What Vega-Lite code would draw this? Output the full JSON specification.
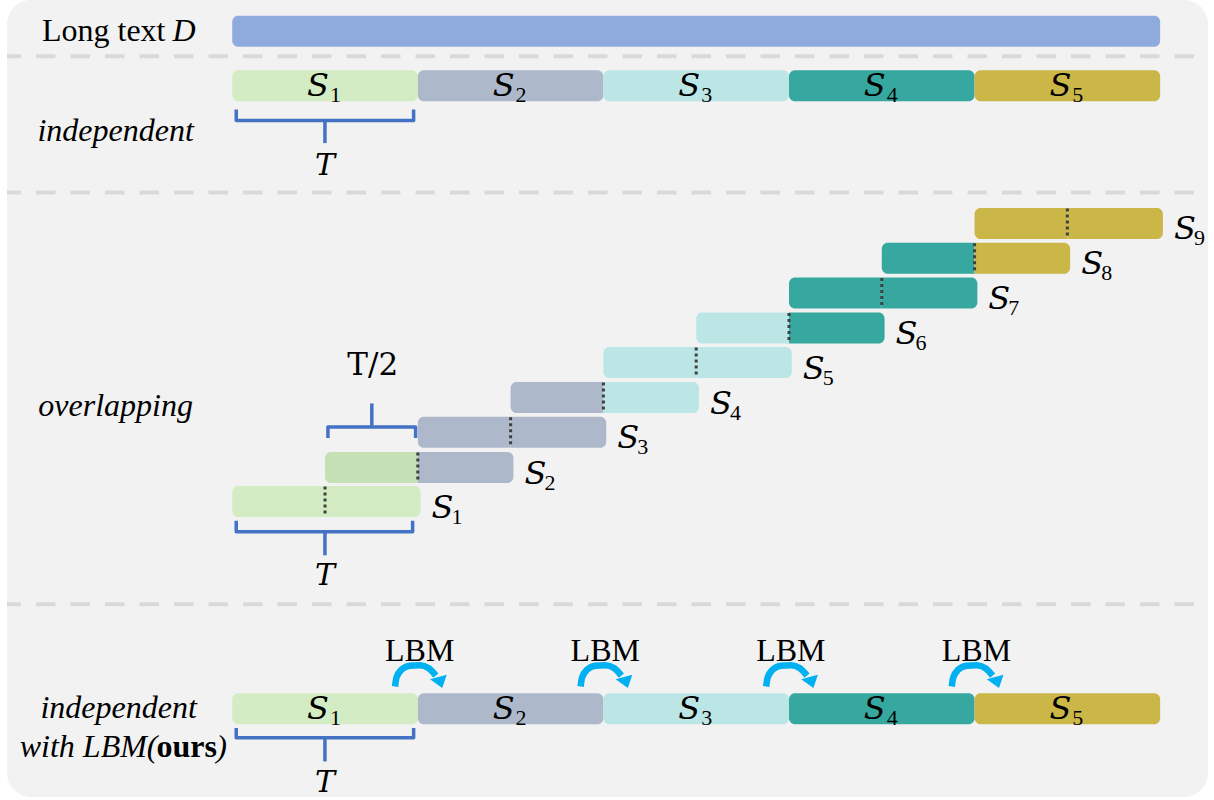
{
  "$schema": "https://vega.github.io/schema/vega-lite/v6.json",
  "width": 1214,
  "height": 800,
  "autosize": {"type": "fit", "contains": "padding"},
  "padding": {"left": 5, "top": 0, "right": 4, "bottom": 2},
  "background": "#ffffff",
  "config": {"view": {"stroke": null, "fill": "#f2f2f2", "cornerRadius": 24}},
  "datasets": {
    "seps": [{"y": 52}, {"y": 190}, {"y": 607.5}],
    "bars": [
      {"x0": 0, "x1": 5, "y": 26.5, "c": "D"},
      {"x0": 0, "x1": 1, "y": 82, "c": "1"},
      {"x0": 1, "x1": 2, "y": 82, "c": "2"},
      {"x0": 2, "x1": 3, "y": 82, "c": "3"},
      {"x0": 3, "x1": 4, "y": 82, "c": "4"},
      {"x0": 4, "x1": 5, "y": 82, "c": "5"},
      {"x0": 0, "x1": 1, "y": 713.5, "c": "1"},
      {"x0": 1, "x1": 2, "y": 713.5, "c": "2"},
      {"x0": 2, "x1": 3, "y": 713.5, "c": "3"},
      {"x0": 3, "x1": 4, "y": 713.5, "c": "4"},
      {"x0": 4, "x1": 5, "y": 713.5, "c": "5"}
    ],
    "halves": [
      {"k": 1, "side": "L", "x0": 0, "x1": 0.5, "y": 503.5, "c": "1"},
      {"k": 1, "side": "R", "x0": 0.5, "x1": 1.015, "y": 503.5, "c": "1"},
      {"k": 2, "side": "L", "x0": 0.5, "x1": 1, "y": 469, "c": "1b"},
      {"k": 2, "side": "R", "x0": 1, "x1": 1.515, "y": 469, "c": "2"},
      {"k": 3, "side": "L", "x0": 1, "x1": 1.5, "y": 433.3, "c": "2"},
      {"k": 3, "side": "R", "x0": 1.5, "x1": 2.015, "y": 433.3, "c": "2"},
      {"k": 4, "side": "L", "x0": 1.5, "x1": 2, "y": 398, "c": "2"},
      {"k": 4, "side": "R", "x0": 2, "x1": 2.515, "y": 398, "c": "3"},
      {"k": 5, "side": "L", "x0": 2, "x1": 2.5, "y": 362.5, "c": "3"},
      {"k": 5, "side": "R", "x0": 2.5, "x1": 3.015, "y": 362.5, "c": "3"},
      {"k": 6, "side": "L", "x0": 2.5, "x1": 3, "y": 327.5, "c": "3"},
      {"k": 6, "side": "R", "x0": 3, "x1": 3.515, "y": 327.5, "c": "4"},
      {"k": 7, "side": "L", "x0": 3, "x1": 3.5, "y": 292, "c": "4"},
      {"k": 7, "side": "R", "x0": 3.5, "x1": 4.015, "y": 292, "c": "4"},
      {"k": 8, "side": "L", "x0": 3.5, "x1": 4, "y": 256.8, "c": "4"},
      {"k": 8, "side": "R", "x0": 4, "x1": 4.515, "y": 256.8, "c": "5"},
      {"k": 9, "side": "L", "x0": 4, "x1": 4.5, "y": 221.5, "c": "5"},
      {"k": 9, "side": "R", "x0": 4.5, "x1": 5.015, "y": 221.5, "c": "5"}
    ],
    "mids": [
      {"x": 0.5, "y": 503.5}, {"x": 1, "y": 469}, {"x": 1.5, "y": 433.3},
      {"x": 2, "y": 398}, {"x": 2.5, "y": 362.5}, {"x": 3, "y": 327.5},
      {"x": 3.5, "y": 292}, {"x": 4, "y": 256.8}, {"x": 4.5, "y": 221.5}
    ],
    "olab": [
      {"n": "1", "x": 1.015, "y": 503.5}, {"n": "2", "x": 1.515, "y": 469},
      {"n": "3", "x": 2.015, "y": 433.3}, {"n": "4", "x": 2.515, "y": 398},
      {"n": "5", "x": 3.015, "y": 362.5}, {"n": "6", "x": 3.515, "y": 327.5},
      {"n": "7", "x": 4.015, "y": 292}, {"n": "8", "x": 4.515, "y": 256.8},
      {"n": "9", "x": 5.015, "y": 221.5}
    ],
    "inlab": [
      {"n": "1", "x": 0.5, "y": 82}, {"n": "2", "x": 1.5, "y": 82},
      {"n": "3", "x": 2.5, "y": 82}, {"n": "4", "x": 3.5, "y": 82},
      {"n": "5", "x": 4.5, "y": 82},
      {"n": "1", "x": 0.5, "y": 713.5}, {"n": "2", "x": 1.5, "y": 713.5},
      {"n": "3", "x": 2.5, "y": 713.5}, {"n": "4", "x": 3.5, "y": 713.5},
      {"n": "5", "x": 4.5, "y": 713.5}
    ],
    "brackets": [
      {"id": "a", "i": 0, "x": 0.0215, "y": 106}, {"id": "a", "i": 1, "x": 0.0215, "y": 117},
      {"id": "a", "i": 2, "x": 0.9774, "y": 117}, {"id": "a", "i": 3, "x": 0.9774, "y": 106},
      {"id": "as", "i": 0, "x": 0.4995, "y": 117}, {"id": "as", "i": 1, "x": 0.4995, "y": 140},
      {"id": "b", "i": 0, "x": 0.0215, "y": 523}, {"id": "b", "i": 1, "x": 0.0215, "y": 534},
      {"id": "b", "i": 2, "x": 0.972, "y": 534}, {"id": "b", "i": 3, "x": 0.972, "y": 523},
      {"id": "bs", "i": 0, "x": 0.4995, "y": 534}, {"id": "bs", "i": 1, "x": 0.4995, "y": 558},
      {"id": "c", "i": 0, "x": 0.0215, "y": 733}, {"id": "c", "i": 1, "x": 0.0215, "y": 743},
      {"id": "c", "i": 2, "x": 0.9774, "y": 743}, {"id": "c", "i": 3, "x": 0.9774, "y": 733},
      {"id": "cs", "i": 0, "x": 0.4995, "y": 743}, {"id": "cs", "i": 1, "x": 0.4995, "y": 767},
      {"id": "d", "i": 0, "x": 0.5156, "y": 439}, {"id": "d", "i": 1, "x": 0.5156, "y": 428},
      {"id": "d", "i": 2, "x": 0.988, "y": 428}, {"id": "d", "i": 3, "x": 0.988, "y": 439},
      {"id": "ds", "i": 0, "x": 0.752, "y": 428}, {"id": "ds", "i": 1, "x": 0.752, "y": 404}
    ],
    "arcs": [
      {"a": 1, "i": 0, "x": 0.877, "y": 691}, {"a": 1, "i": 1, "x": 0.885, "y": 682},
      {"a": 1, "i": 2, "x": 0.912, "y": 674}, {"a": 1, "i": 3, "x": 0.957, "y": 670},
      {"a": 1, "i": 4, "x": 1.011, "y": 669.5}, {"a": 1, "i": 5, "x": 1.059, "y": 672.5},
      {"a": 1, "i": 6, "x": 1.097, "y": 680},
      {"a": 2, "i": 0, "x": 1.877, "y": 691}, {"a": 2, "i": 1, "x": 1.885, "y": 682},
      {"a": 2, "i": 2, "x": 1.912, "y": 674}, {"a": 2, "i": 3, "x": 1.957, "y": 670},
      {"a": 2, "i": 4, "x": 2.011, "y": 669.5}, {"a": 2, "i": 5, "x": 2.059, "y": 672.5},
      {"a": 2, "i": 6, "x": 2.097, "y": 680},
      {"a": 3, "i": 0, "x": 2.877, "y": 691}, {"a": 3, "i": 1, "x": 2.885, "y": 682},
      {"a": 3, "i": 2, "x": 2.912, "y": 674}, {"a": 3, "i": 3, "x": 2.957, "y": 670},
      {"a": 3, "i": 4, "x": 3.011, "y": 669.5}, {"a": 3, "i": 5, "x": 3.059, "y": 672.5},
      {"a": 3, "i": 6, "x": 3.097, "y": 680},
      {"a": 4, "i": 0, "x": 3.877, "y": 691}, {"a": 4, "i": 1, "x": 3.885, "y": 682},
      {"a": 4, "i": 2, "x": 3.912, "y": 674}, {"a": 4, "i": 3, "x": 3.957, "y": 670},
      {"a": 4, "i": 4, "x": 4.011, "y": 669.5}, {"a": 4, "i": 5, "x": 4.059, "y": 672.5},
      {"a": 4, "i": 6, "x": 4.097, "y": 680}
    ],
    "heads": [
      {"x": 1.118, "y": 686.5}, {"x": 2.118, "y": 686.5},
      {"x": 3.118, "y": 686.5}, {"x": 4.118, "y": 686.5}
    ],
    "texts": [
      {"kind": "italicC", "t": "independent", "x": -0.6284, "y": 138},
      {"kind": "italicC", "t": "overlapping", "x": -0.6284, "y": 417},
      {"kind": "italicC", "t": "independent", "x": -0.6122, "y": 723},
      {"kind": "italicL", "t": "D", "x": -0.3222, "y": 37},
      {"kind": "italicL", "t": ")", "x": -0.0859, "y": 763},
      {"kind": "italicR", "t": "with LBM(", "x": -0.4028, "y": 763},
      {"kind": "regularR", "t": "Long text", "x": -0.3598, "y": 37},
      {"kind": "boldL", "t": "ours", "x": -0.4082, "y": 763},
      {"kind": "lbm", "t": "LBM", "x": 1.01, "y": 665},
      {"kind": "lbm", "t": "LBM", "x": 2.01, "y": 665},
      {"kind": "lbm", "t": "LBM", "x": 3.01, "y": 665},
      {"kind": "lbm", "t": "LBM", "x": 4.01, "y": 665},
      {"kind": "T", "t": "T", "x": 0.4995, "y": 172},
      {"kind": "T", "t": "T", "x": 0.4995, "y": 588},
      {"kind": "T", "t": "T", "x": 0.4995, "y": 798},
      {"kind": "half", "t": "T/2", "x": 0.757, "y": 375}
    ]
  },
  "encoding": {
    "x": {"type": "quantitative", "scale": {"domain": [-1.2137, 5.2578], "nice": false, "zero": false}, "axis": null},
    "y": {"type": "quantitative", "scale": {"domain": [0, 798], "nice": false, "zero": false, "reverse": true}, "axis": null}
  },
  "layer": [
    {
      "data": {"name": "seps"},
      "mark": {"type": "rule", "stroke": "#d9d9d9", "strokeWidth": 4, "strokeDash": [19.5, 15], "strokeDashOffset": 20.5},
      "encoding": {"y": {"field": "y", "type": "quantitative"}, "x": null}
    },
    {
      "data": {"name": "bars"},
      "mark": {"type": "bar", "orient": "horizontal", "size": 31, "cornerRadius": 6},
      "encoding": {
        "x": {"field": "x0", "type": "quantitative"},
        "x2": {"field": "x1"},
        "y": {"field": "y", "type": "quantitative"},
        "color": {"field": "c", "type": "nominal", "legend": null,
          "scale": {"domain": ["D", "1", "1b", "2", "3", "4", "5"],
                    "range": ["#8faadc", "#d4ecc4", "#c5e0b4", "#adb9ca", "#bce6e5", "#37a8a0", "#cbb748"]}}
      }
    },
    {
      "data": {"name": "halves"},
      "transform": [{"filter": "datum.side === 'L'"}],
      "mark": {"type": "bar", "orient": "horizontal", "size": 31, "cornerRadiusTopLeft": 6, "cornerRadiusBottomLeft": 6},
      "encoding": {
        "x": {"field": "x0", "type": "quantitative"},
        "x2": {"field": "x1"},
        "y": {"field": "y", "type": "quantitative"},
        "color": {"field": "c", "type": "nominal", "legend": null}
      }
    },
    {
      "data": {"name": "halves"},
      "transform": [{"filter": "datum.side === 'R'"}],
      "mark": {"type": "bar", "orient": "horizontal", "size": 31, "cornerRadiusTopRight": 6, "cornerRadiusBottomRight": 6},
      "encoding": {
        "x": {"field": "x0", "type": "quantitative"},
        "x2": {"field": "x1"},
        "y": {"field": "y", "type": "quantitative"},
        "color": {"field": "c", "type": "nominal", "legend": null}
      }
    },
    {
      "data": {"name": "mids"},
      "mark": {"type": "point", "shape": "M0,-1L0,1", "size": 900, "filled": false, "stroke": "#404040", "strokeWidth": 3, "strokeDash": [3, 3], "opacity": 1},
      "encoding": {
        "x": {"field": "x", "type": "quantitative"},
        "y": {"field": "y", "type": "quantitative"}
      }
    },
    {
      "data": {"name": "brackets"},
      "mark": {"type": "line", "stroke": "#4472c4", "strokeWidth": 3.5, "strokeJoin": "round", "strokeCap": "butt"},
      "encoding": {
        "x": {"field": "x", "type": "quantitative"},
        "y": {"field": "y", "type": "quantitative"},
        "detail": {"field": "id", "type": "nominal"},
        "order": {"field": "i", "type": "quantitative"}
      }
    },
    {
      "data": {"name": "arcs"},
      "mark": {"type": "line", "stroke": "#00b0f0", "strokeWidth": 6.5, "interpolate": "monotone", "strokeCap": "butt"},
      "encoding": {
        "x": {"field": "x", "type": "quantitative"},
        "y": {"field": "y", "type": "quantitative"},
        "detail": {"field": "a", "type": "nominal"},
        "order": {"field": "i", "type": "quantitative"}
      }
    },
    {
      "data": {"name": "heads"},
      "mark": {"type": "point", "shape": "M-1,-0.6L1,-0.6L0.1,0.75Z", "size": 300, "filled": true, "fill": "#00b0f0", "opacity": 1, "angle": -15, "strokeWidth": 0},
      "encoding": {
        "x": {"field": "x", "type": "quantitative"},
        "y": {"field": "y", "type": "quantitative"}
      }
    },
    {
      "data": {"name": "inlab"},
      "mark": {"type": "text", "text": "S", "align": "right", "baseline": "alphabetic", "dx": 4, "dy": 10, "font": "DejaVu Serif", "fontStyle": "italic", "fontSize": 32, "fill": "#000000"},
      "encoding": {
        "x": {"field": "x", "type": "quantitative"},
        "y": {"field": "y", "type": "quantitative"}
      }
    },
    {
      "data": {"name": "inlab"},
      "mark": {"type": "text", "align": "left", "baseline": "alphabetic", "dx": 5, "dy": 16, "font": "Liberation Serif, Times New Roman, serif", "fontSize": 22, "fill": "#000000"},
      "encoding": {
        "x": {"field": "x", "type": "quantitative"},
        "y": {"field": "y", "type": "quantitative"},
        "text": {"field": "n"}
      }
    },
    {
      "data": {"name": "olab"},
      "mark": {"type": "text", "text": "S", "align": "left", "baseline": "alphabetic", "dx": 11, "dy": 16, "font": "DejaVu Serif", "fontStyle": "italic", "fontSize": 32, "fill": "#000000"},
      "encoding": {
        "x": {"field": "x", "type": "quantitative"},
        "y": {"field": "y", "type": "quantitative"}
      }
    },
    {
      "data": {"name": "olab"},
      "mark": {"type": "text", "align": "left", "baseline": "alphabetic", "dx": 31, "dy": 22, "font": "Liberation Serif, Times New Roman, serif", "fontSize": 22, "fill": "#000000"},
      "encoding": {
        "x": {"field": "x", "type": "quantitative"},
        "y": {"field": "y", "type": "quantitative"},
        "text": {"field": "n"}
      }
    },
    {
      "data": {"name": "texts"},
      "transform": [{"filter": "datum.kind === 'italicC'"}],
      "mark": {"type": "text", "align": "center", "baseline": "alphabetic", "font": "Liberation Serif, Times New Roman, serif", "fontStyle": "italic", "fontSize": 32, "fill": "#000000"},
      "encoding": {"x": {"field": "x", "type": "quantitative"}, "y": {"field": "y", "type": "quantitative"}, "text": {"field": "t"}}
    },
    {
      "data": {"name": "texts"},
      "transform": [{"filter": "datum.kind === 'italicL'"}],
      "mark": {"type": "text", "align": "left", "baseline": "alphabetic", "font": "Liberation Serif, Times New Roman, serif", "fontStyle": "italic", "fontSize": 32, "fill": "#000000"},
      "encoding": {"x": {"field": "x", "type": "quantitative"}, "y": {"field": "y", "type": "quantitative"}, "text": {"field": "t"}}
    },
    {
      "data": {"name": "texts"},
      "transform": [{"filter": "datum.kind === 'italicR'"}],
      "mark": {"type": "text", "align": "right", "baseline": "alphabetic", "font": "Liberation Serif, Times New Roman, serif", "fontStyle": "italic", "fontSize": 32, "fill": "#000000"},
      "encoding": {"x": {"field": "x", "type": "quantitative"}, "y": {"field": "y", "type": "quantitative"}, "text": {"field": "t"}}
    },
    {
      "data": {"name": "texts"},
      "transform": [{"filter": "datum.kind === 'regularR'"}],
      "mark": {"type": "text", "align": "right", "baseline": "alphabetic", "font": "Liberation Serif, Times New Roman, serif", "fontSize": 32, "fill": "#000000"},
      "encoding": {"x": {"field": "x", "type": "quantitative"}, "y": {"field": "y", "type": "quantitative"}, "text": {"field": "t"}}
    },
    {
      "data": {"name": "texts"},
      "transform": [{"filter": "datum.kind === 'boldL'"}],
      "mark": {"type": "text", "align": "left", "baseline": "alphabetic", "font": "Liberation Serif, Times New Roman, serif", "fontWeight": "bold", "fontSize": 32, "fill": "#000000"},
      "encoding": {"x": {"field": "x", "type": "quantitative"}, "y": {"field": "y", "type": "quantitative"}, "text": {"field": "t"}}
    },
    {
      "data": {"name": "texts"},
      "transform": [{"filter": "datum.kind === 'lbm'"}],
      "mark": {"type": "text", "align": "center", "baseline": "alphabetic", "font": "Liberation Serif, Times New Roman, serif", "fontSize": 32, "fill": "#000000"},
      "encoding": {"x": {"field": "x", "type": "quantitative"}, "y": {"field": "y", "type": "quantitative"}, "text": {"field": "t"}}
    },
    {
      "data": {"name": "texts"},
      "transform": [{"filter": "datum.kind === 'T'"}],
      "mark": {"type": "text", "align": "center", "baseline": "alphabetic", "font": "DejaVu Serif", "fontStyle": "italic", "fontSize": 30, "fill": "#000000"},
      "encoding": {"x": {"field": "x", "type": "quantitative"}, "y": {"field": "y", "type": "quantitative"}, "text": {"field": "t"}}
    },
    {
      "data": {"name": "texts"},
      "transform": [{"filter": "datum.kind === 'half'"}],
      "mark": {"type": "text", "align": "center", "baseline": "alphabetic", "font": "DejaVu Serif", "fontSize": 31, "fill": "#000000"},
      "encoding": {"x": {"field": "x", "type": "quantitative"}, "y": {"field": "y", "type": "quantitative"}, "text": {"field": "t"}}
    }
  ]
}
